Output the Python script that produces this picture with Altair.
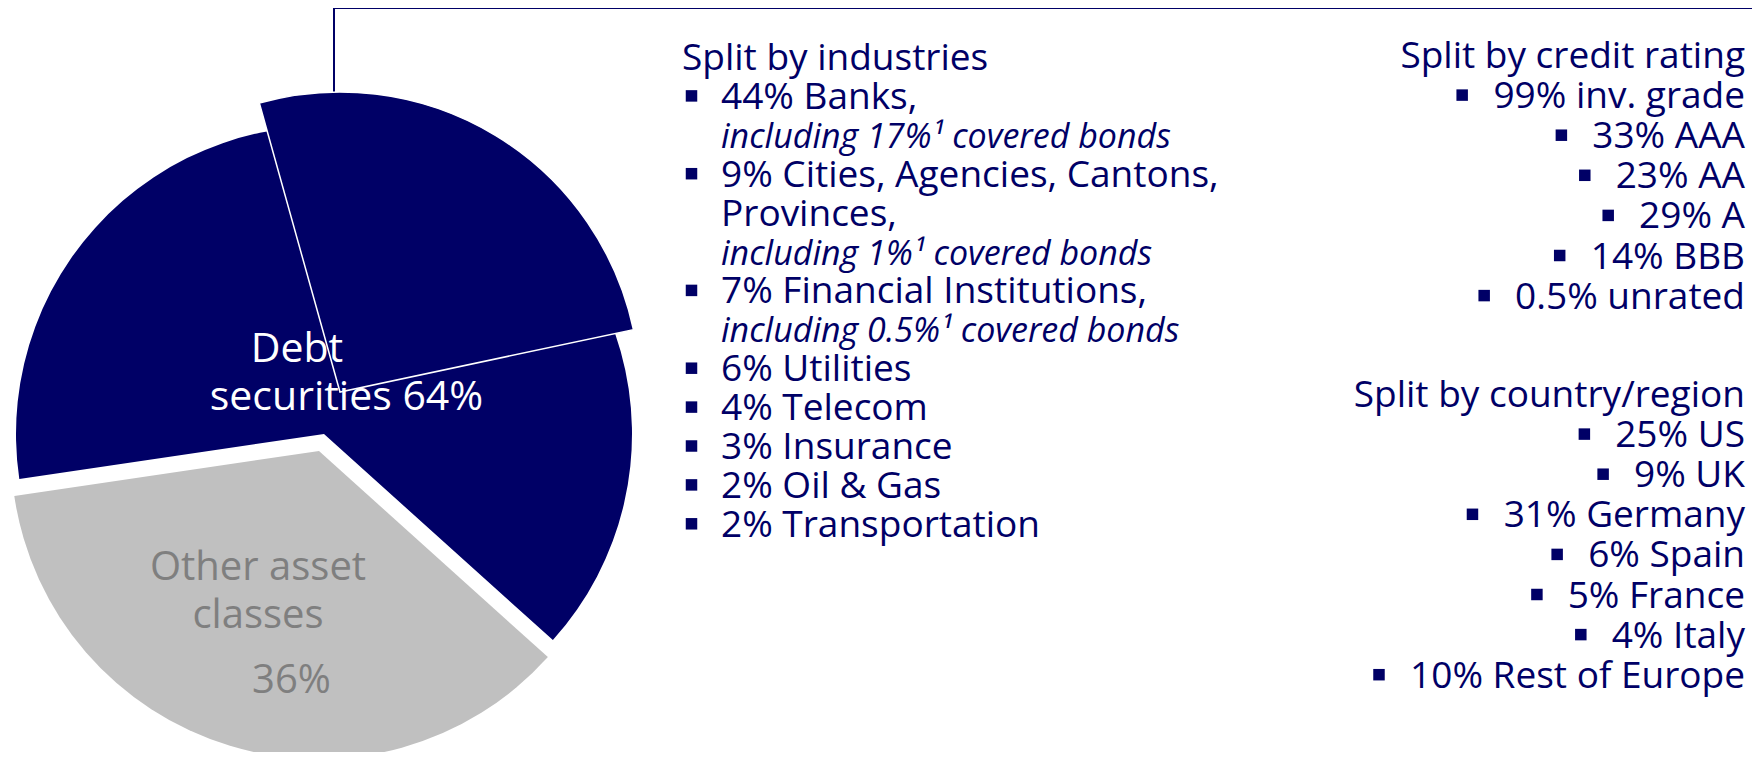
import glob
import math
import struct

import altair as alt
import pandas as pd

# ---------------- data ----------------
asset_classes = ["Other asset classes", "Debt securities"]
asset_shares = [36, 64]
asset_colors = ["#C0C0C0", "#000066"]

# emphasised sub-slice of the debt wedge: start (in % of the pie) and share
highlight_start = 59
highlight_share = 26

pie_label_debt = ["Debt", "securities 64%"]
pie_label_other = ["Other asset", "classes", "36%"]

industry_heading = "Split by industries"
industry_lines = [
    "44% Banks,",
    "including 17%\u00b9 covered bonds",
    "9% Cities, Agencies, Cantons,",
    "Provinces,",
    "including 1%\u00b9 covered bonds",
    "7% Financial Institutions,",
    "including 0.5%\u00b9 covered bonds",
    "6% Utilities",
    "4% Telecom",
    "3% Insurance",
    "2% Oil & Gas",
    "2% Transportation",
]
industry_kinds = ["bullet", "note", "bullet", "cont", "note", "bullet", "note",
                  "bullet", "bullet", "bullet", "bullet", "bullet"]

rating_heading = "Split by credit rating"
rating_lines = ["99% inv. grade", "33% AAA", "23% AA", "29% A", "14% BBB", "0.5% unrated"]

country_heading = "Split by country/region"
country_lines = ["25% US", "9% UK", "31% Germany", "6% Spain", "5% France", "4% Italy",
                 "10% Rest of Europe"]

# ---------------- layout ----------------
W, H = 1744, 744
NAVY = "#000066"
FONT = "Open Sans"
MAIN_SIZE = 37
ROT = math.radians(132.0)
BULLET_AREA = 132


# --- advance widths of the installed Open Sans, to place right-aligned bullets ---
def _font_measurer():
    paths = []
    for pat in ["/usr/share/fonts/**/*OpenSans*.ttf", "/usr/local/share/fonts/**/*OpenSans*.ttf",
                "/usr/share/fonts/**/*Open*Sans*.ttf", "/root/.fonts/**/*OpenSans*.ttf"]:
        paths += glob.glob(pat, recursive=True)
    paths = sorted(set(paths), key=lambda p: (("Italic" in p), ("Bold" in p or "Light" in p
                   or "Semi" in p or "Extra" in p or "Medium" in p), len(p)))
    for path in paths:
        try:
            data = open(path, "rb").read()
            num = struct.unpack(">H", data[4:6])[0]
            tables = {}
            for i in range(num):
                rec = data[12 + 16 * i: 28 + 16 * i]
                tag = rec[:4].decode("latin-1")
                off = struct.unpack(">I", rec[8:12])[0]
                tables[tag] = off
            upem = struct.unpack(">H", data[tables["head"] + 18: tables["head"] + 20])[0]
            nhm = struct.unpack(">H", data[tables["hhea"] + 34: tables["hhea"] + 36])[0]
            hmtx = tables["hmtx"]
            cm = tables["cmap"]
            nsub = struct.unpack(">H", data[cm + 2: cm + 4])[0]
            sub = None
            for i in range(nsub):
                pid, eid, off = struct.unpack(">HHI", data[cm + 4 + 8 * i: cm + 12 + 8 * i])
                fmt = struct.unpack(">H", data[cm + off: cm + off + 2])[0]
                if fmt == 4 and (pid, eid) in [(3, 1), (0, 3), (0, 4)]:
                    sub = cm + off
                    break
            if sub is None:
                continue
            segx2 = struct.unpack(">H", data[sub + 6: sub + 8])[0]
            seg = segx2 // 2
            ends = struct.unpack(">%dH" % seg, data[sub + 14: sub + 14 + segx2])
            sp = sub + 16 + segx2
            starts = struct.unpack(">%dH" % seg, data[sp: sp + segx2])
            deltas = struct.unpack(">%dh" % seg, data[sp + segx2: sp + 2 * segx2])
            rop = sp + 2 * segx2
            ros = struct.unpack(">%dH" % seg, data[rop: rop + segx2])

            def gid(c):
                for i in range(seg):
                    if ends[i] >= c:
                        if starts[i] > c:
                            return 0
                        if ros[i] == 0:
                            return (c + deltas[i]) & 0xFFFF
                        a = rop + 2 * i + ros[i] + 2 * (c - starts[i])
                        g = struct.unpack(">H", data[a: a + 2])[0]
                        return (g + deltas[i]) & 0xFFFF if g else 0
                return 0

            def adv(g):
                g = min(g, nhm - 1)
                return struct.unpack(">H", data[hmtx + 4 * g: hmtx + 4 * g + 2])[0]

            def measure(s, size):
                return sum(adv(gid(ord(ch))) for ch in s) / upem * size

            if measure("Split", 100) > 0:
                return measure
        except Exception:
            continue
    return lambda s, size: len(s) * 0.56 * size


text_width = _font_measurer()

theta_scale = alt.Scale(domain=[0, 100], range=[ROT, ROT + 2 * math.pi])

cum = [0]
for s in asset_shares:
    cum.append(cum[-1] + s)
pie_df = pd.DataFrame({"cat": asset_classes, "start": cum[:-1], "end": cum[1:]})
hl_df = pd.DataFrame({"cat": ["Debt securities"], "start": [highlight_start],
                      "end": [highlight_start + highlight_share]})

color = alt.Color("cat:N", scale=alt.Scale(domain=asset_classes, range=asset_colors), legend=None)


def arc(df, cx, cy, r, **kw):
    return alt.Chart(df).mark_arc(radius=r, **kw).encode(
        theta=alt.Theta("start:Q", scale=theta_scale, stack=False),
        theta2="end:Q",
        color=color,
        x=alt.value(cx),
        y=alt.value(cy),
    )


gray_arc = arc(pie_df[pie_df.cat == asset_classes[0]], 311, 443, 308)
navy_arc = arc(pie_df[pie_df.cat == asset_classes[1]], 316, 426, 308)
hl_arc = arc(hl_df, 332, 384, 300, stroke="white", strokeWidth=1.5)


def text_layer(df, size, col, align="left", style="normal"):
    return alt.Chart(df).mark_text(
        align=align, baseline="alphabetic", font=FONT, fontSize=size,
        color=col, fontStyle=style,
    ).encode(
        x=alt.X("x:Q", scale=None, axis=None),
        y=alt.Y("y:Q", scale=None, axis=None),
        text="text:N",
    )


def bullet_layer(df):
    return alt.Chart(df).mark_square(color=NAVY, size=BULLET_AREA, opacity=1).encode(
        x=alt.X("bx:Q", scale=None, axis=None),
        y=alt.Y("by:Q", scale=None, axis=None),
    )


# pie labels
debt_df = pd.DataFrame({"text": pie_label_debt, "x": [289, 338.5], "y": [354, 402]})
other_df = pd.DataFrame({"text": pie_label_other, "x": [250, 250, 283.5], "y": [572, 620, 685]})

# left column
L_Y0, L_STEP = 62, 38.9
rows = []
for i, (t, k) in enumerate(zip(industry_lines, industry_kinds), start=1):
    rows.append({"text": t, "kind": k, "x": 713, "y": L_Y0 + L_STEP * i})
ind_df = pd.DataFrame(rows)
head_df = pd.DataFrame({"text": [industry_heading], "x": [674], "y": [L_Y0]})
main_df = ind_df[ind_df.kind != "note"]
note_df = ind_df[ind_df.kind == "note"]
lb_df = ind_df[ind_df.kind == "bullet"].copy()
lb_df["bx"] = 683.5
lb_df["by"] = lb_df["y"] - 13

# right column
R_X = 1737
R_STEP = 40.1
BULLET_GAP = 25
rrows = [{"text": rating_heading, "x": R_X, "y": 60, "b": False}]
for i, t in enumerate(rating_lines, start=1):
    rrows.append({"text": t, "x": R_X, "y": 60 + R_STEP * i, "b": True})
rrows.append({"text": country_heading, "x": R_X, "y": 399, "b": False})
for i, t in enumerate(country_lines, start=1):
    rrows.append({"text": t, "x": R_X, "y": 399 + R_STEP * i, "b": True})
right_df = pd.DataFrame(rrows)
rb_df = right_df[right_df.b].copy()
rb_df["bx"] = [R_X - text_width(t, MAIN_SIZE) - BULLET_GAP - 6 for t in rb_df["text"]]
rb_df["by"] = rb_df["y"] - 13

# connector lines
vline = alt.Chart(pd.DataFrame({"a": [0]})).mark_rule(color=NAVY, strokeWidth=2).encode(
    x=alt.value(326), y=alt.value(0), y2=alt.value(86))
hline = alt.Chart(pd.DataFrame({"a": [0]})).mark_rule(color=NAVY, strokeWidth=2).encode(
    x=alt.value(325), x2=alt.value(W), y=alt.value(0))

chart = alt.layer(
    vline, hline,
    navy_arc, gray_arc, hl_arc,
    text_layer(debt_df, 41, "white", align="center"),
    text_layer(other_df, 40, "#7F7F7F", align="center"),
    text_layer(head_df, MAIN_SIZE, NAVY),
    text_layer(main_df, MAIN_SIZE, NAVY),
    text_layer(note_df, 34, NAVY, style="italic"),
    bullet_layer(lb_df),
    text_layer(right_df.drop(columns="b"), MAIN_SIZE, NAVY, align="right"),
    bullet_layer(rb_df.drop(columns="b")),
).properties(
    width=W, height=H, padding=0, autosize=alt.AutoSizeParams(type="none")
).configure_view(stroke=None)

chart.save("out.html", embed_options={"renderer": "svg", "actions": False})
